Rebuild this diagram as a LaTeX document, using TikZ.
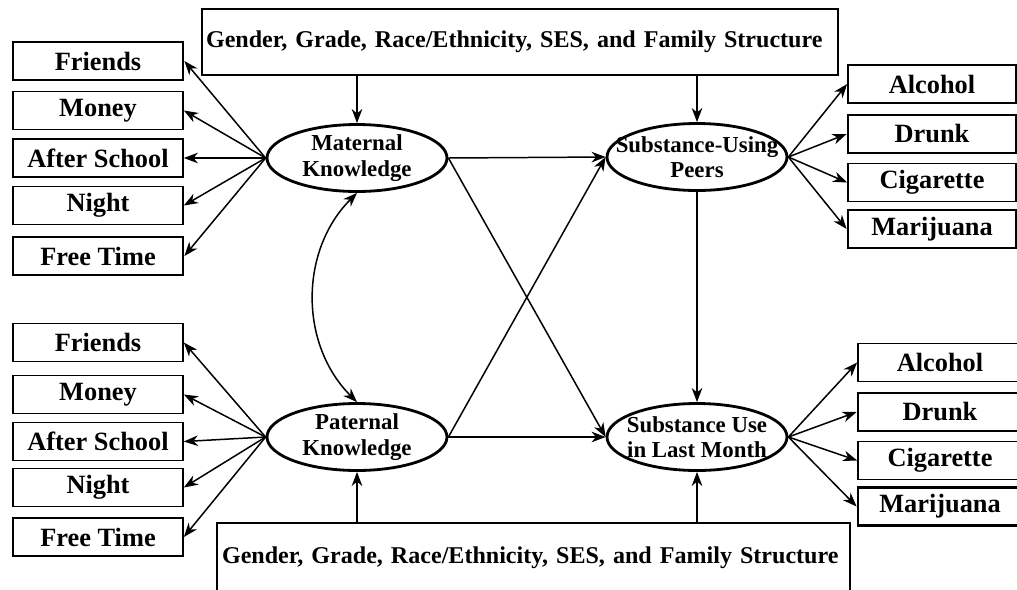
\documentclass[tikz,border=0pt]{standalone}
\usepackage{fontspec}
\setmainfont{Liberation Serif}
\usetikzlibrary{arrows.meta,shapes.geometric}

\begin{document}
\begin{tikzpicture}[x=0.02cm,y=-0.02cm,
  item/.style={draw,line width=1pt,minimum width=3.4cm,minimum height=0.76cm,inner sep=0pt,font=\fontsize{15}{18}\selectfont\bfseries},
  heavy/.style={line width=1.6pt},
  latent/.style={draw,ellipse,line width=1.6pt,minimum width=3.6cm,minimum height=1.34cm,inner sep=0pt},
  lattext/.style={align=center,inner sep=0pt,font=\fontsize{13}{14.5}\selectfont\bfseries},
  covar/.style={draw,line width=1pt,align=left,font=\fontsize{13.7}{16}\selectfont\bfseries},
  path/.style={-{Stealth[length=8pt,width=6pt,inset=2.5pt]},line width=0.85pt}]

  \useasboundingbox (0,0) rectangle (1017,589);

  % background factors
  \node[covar,text width=12.56cm,inner xsep=0.08cm,minimum height=1.32cm] (cvtop) at (520,42) {Gender, Grade, Race/Ethnicity, SES, and Family Structure};
  \node[covar,text width=12.46cm,inner xsep=0.1cm,minimum height=1.4cm] (cvbot) at (533.5,558) {Gender, Grade, Race/Ethnicity, SES, and Family Structure};

  % latent variables
  \node[latent,label={[lattext]center:{Maternal\\Knowledge}}] (mk) at (357,158) {};
  \node[latent,label={[lattext]center:{Paternal\\Knowledge}}] (pk) at (357,437) {};
  \node[latent,label={[lattext]center:{Substance-Using\\Peers}}] (sup) at (697,157) {};
  \node[latent,label={[lattext]center:{Substance Use\\in Last Month}}] (sul) at (697,437) {};

  % maternal indicators
  \node[item,heavy] (fr1) at (98,61) {Friends};
  \node[item] (mo1) at (98,110.5) {Money};
  \node[item] (as1) at (98,158) {After School};
  \node[item] (ni1) at (98,205.5) {Night};
  \node[item,heavy] (ft1) at (98,256) {Free Time};

  % paternal indicators
  \node[item] (fr2) at (98,342.5) {Friends};
  \node[item] (mo2) at (98,394.5) {Money};
  \node[item] (as2) at (98,441.5) {After School};
  \node[item] (ni2) at (98,487.5) {Night};
  \node[item] (ft2) at (98,537) {Free Time};

  % peer indicators
  \node[item,minimum width=3.36cm] (alc1) at (932,84) {Alcohol};
  \node[item,heavy,minimum width=3.36cm] (dr1) at (932,134) {Drunk};
  \node[item,minimum width=3.36cm] (cig1) at (932,182.5) {Cigarette};
  \node[item,heavy,minimum width=3.36cm] (mar1) at (932,229) {Marijuana};

  % use indicators
  \node[item,minimum width=3.28cm] (alc2) at (940,362.5) {Alcohol};
  \node[item,heavy,minimum width=3.28cm] (dr2) at (940,412) {Drunk};
  \node[item,minimum width=3.28cm] (cig2) at (940,460.5) {Cigarette};
  \node[item,heavy,minimum width=3.28cm] (mar2) at (940,506.5) {Marijuana};

  \foreach \b in {fr1,mo1,as1,ni1,ft1}
    \draw[path] (mk.west) -- (\b.east);
  \foreach \b in {fr2,mo2,as2,ni2,ft2}
    \draw[path] (pk.west) -- (\b.east);
  \foreach \b in {alc1,dr1,cig1,mar1}
    \draw[path] (sup.east) -- (\b.west);
  \foreach \b in {alc2,dr2,cig2,mar2}
    \draw[path] (sul.east) -- (\b.west);

  % structural paths
  \draw[path] (cvtop.south -| mk) -- (mk.north);
  \draw[path] (cvtop.south -| sup) -- (sup.north);
  \draw[path] (cvbot.north -| pk) -- (pk.south);
  \draw[path] (cvbot.north -| sul) -- (sul.south);
  \draw[path] (mk.east) -- (sup.west);
  \draw[path] (mk.east) -- (sul.west);
  \draw[path] (pk.east) -- (sup.west);
  \draw[path] (pk.east) -- (sul.west);
  \draw[path] (sup.south) -- (sul.north);
  \draw[path,{Stealth[length=8pt,width=6pt,inset=2.5pt]}-{Stealth[length=8pt,width=6pt,inset=2.5pt]}] (mk.south) to[bend right=45] (pk.north);
\end{tikzpicture}
\end{document}
